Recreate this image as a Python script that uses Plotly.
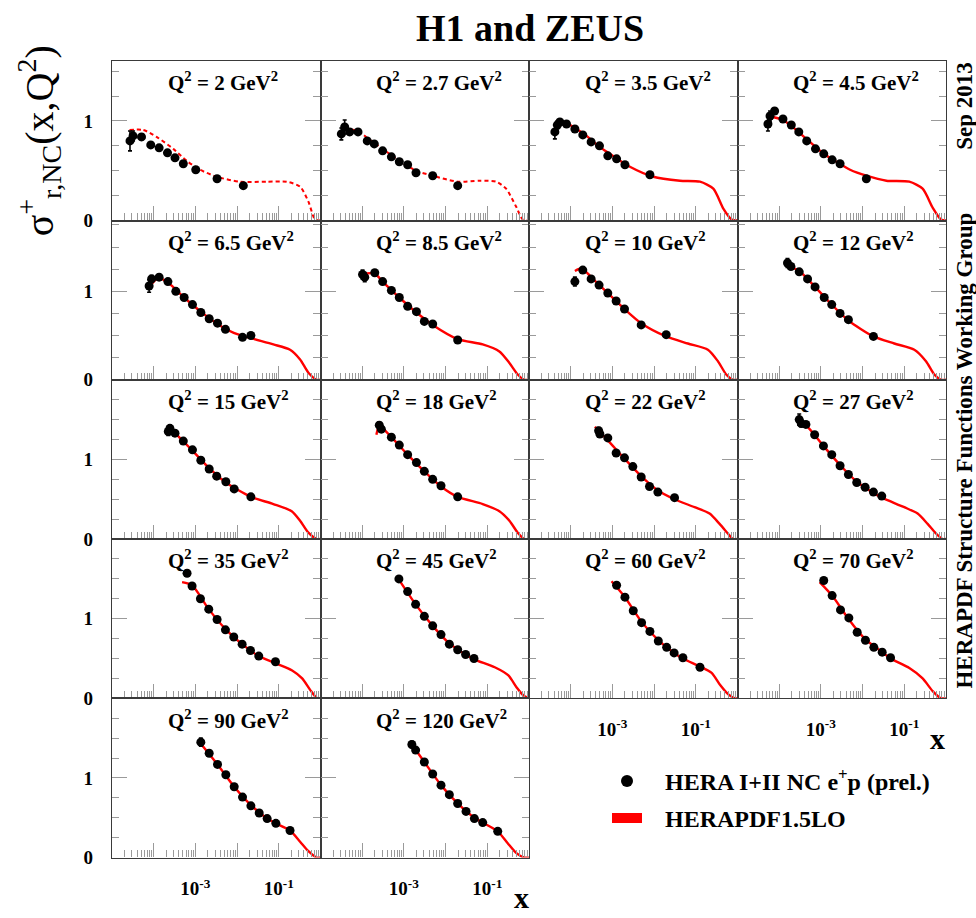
import plotly.graph_objects as go

# ---------------- data ----------------
Q2_LABELS = ["2", "2.7", "3.5", "4.5", "6.5", "8.5", "10", "12", "15",
             "18", "22", "27", "35", "45", "60", "70", "90", "120"]

# measured reduced cross sections (HERA I+II NC e+p)
DATA_X = [
    [2.7e-5, 3.2e-5, 5.1e-5, 8.5e-5, 1.35e-4, 2.14e-4, 3.24e-4, 5.13e-4, 1.02e-3, 3.31e-3, 1.41e-2],
    [3.16e-5, 3.8e-5, 5.01e-5, 7.94e-5, 1.32e-4, 1.95e-4, 3.09e-4, 5.01e-4, 7.76e-4, 1.23e-3, 1.95e-3, 4.9e-3, 1.95e-2],
    [4.17e-5, 4.79e-5, 5.5e-5, 7.94e-5, 1.26e-4, 1.95e-4, 3.09e-4, 4.9e-4, 7.76e-4, 1.26e-3, 2.0e-3, 7.94e-3],
    [5.37e-5, 6.03e-5, 7.76e-5, 1.23e-4, 1.95e-4, 2.95e-4, 4.57e-4, 7.41e-4, 1.17e-3, 1.86e-3, 2.88e-3, 1.23e-2],
    [7.76e-5, 8.91e-5, 1.35e-4, 2.19e-4, 3.39e-4, 5.37e-4, 8.51e-4, 1.35e-3, 2.14e-3, 3.39e-3, 5.25e-3, 1.35e-2, 2.14e-2],
    [1.02e-4, 1.15e-4, 2.0e-4, 3.09e-4, 5.01e-4, 7.76e-4, 1.23e-3, 2.0e-3, 3.09e-3, 4.9e-3, 1.95e-2],
    [1.26e-4, 1.95e-4, 3.09e-4, 4.79e-4, 7.76e-4, 1.23e-3, 1.95e-3, 4.9e-3, 1.95e-2],
    [1.58e-4, 1.91e-4, 3.02e-4, 4.79e-4, 7.24e-4, 1.2e-3, 1.82e-3, 2.88e-3, 4.57e-3, 1.82e-2],
    [2.24e-4, 2.45e-4, 3.24e-4, 5.13e-4, 8.51e-4, 1.35e-3, 2.14e-3, 3.24e-3, 5.37e-3, 8.51e-3, 2.14e-2],
    [2.57e-4, 2.88e-4, 5.01e-4, 7.76e-4, 1.23e-3, 2.0e-3, 3.09e-3, 4.9e-3, 7.76e-3, 1.95e-2],
    [4.68e-4, 5.01e-4, 7.76e-4, 1.23e-3, 1.95e-3, 3.09e-3, 4.9e-3, 7.76e-3, 1.23e-2, 3.09e-2],
    [3.02e-4, 3.39e-4, 4.37e-4, 7.08e-4, 1.15e-3, 1.82e-3, 2.88e-3, 4.57e-3, 7.24e-3, 1.15e-2, 1.82e-2, 2.88e-2],
    [6.31e-4, 8.32e-4, 1.32e-3, 2.09e-3, 3.31e-3, 5.25e-3, 8.32e-3, 1.32e-2, 2.09e-2, 3.31e-2, 8.32e-2],
    [7.59e-4, 1.23e-3, 1.91e-3, 3.09e-3, 4.9e-3, 7.76e-3, 1.23e-2, 1.95e-2, 3.02e-2, 4.79e-2],
    [1.26e-3, 2.0e-3, 3.16e-3, 5.01e-3, 7.94e-3, 1.26e-2, 2.0e-2, 3.02e-2, 4.9e-2, 0.126],
    [1.17e-3, 1.86e-3, 2.95e-3, 4.68e-3, 7.41e-3, 1.17e-2, 1.86e-2, 2.95e-2, 4.68e-2],
    [1.35e-3, 2.14e-3, 3.39e-3, 5.37e-3, 8.51e-3, 1.35e-2, 2.14e-2, 3.39e-2, 5.25e-2, 8.51e-2, 0.186],
    [1.55e-3, 1.91e-3, 3.09e-3, 4.9e-3, 7.76e-3, 1.23e-2, 1.95e-2, 3.09e-2, 4.9e-2, 7.76e-2, 0.178],
]
DATA_Y = [
    [0.80, 0.85, 0.84, 0.76, 0.73, 0.68, 0.63, 0.57, 0.51, 0.42, 0.35],
    [0.87, 0.94, 0.89, 0.89, 0.80, 0.77, 0.70, 0.64, 0.59, 0.56, 0.48, 0.45, 0.35],
    [0.89, 0.96, 0.99, 0.97, 0.92, 0.86, 0.79, 0.75, 0.65, 0.62, 0.56, 0.46],
    [0.97, 1.05, 1.10, 1.02, 0.96, 0.89, 0.80, 0.72, 0.67, 0.61, 0.57, 0.42],
    [1.06, 1.14, 1.16, 1.11, 1.00, 0.93, 0.85, 0.76, 0.69, 0.64, 0.57, 0.48, 0.50],
    [1.19, 1.16, 1.21, 1.11, 1.01, 0.93, 0.83, 0.77, 0.66, 0.63, 0.45],
    [1.11, 1.24, 1.14, 1.07, 0.98, 0.89, 0.80, 0.62, 0.51],
    [1.32, 1.28, 1.22, 1.14, 1.05, 0.93, 0.85, 0.75, 0.68, 0.49],
    [1.35, 1.39, 1.33, 1.23, 1.12, 0.99, 0.88, 0.79, 0.72, 0.63, 0.53],
    [1.43, 1.38, 1.28, 1.18, 1.06, 0.96, 0.85, 0.75, 0.67, 0.53],
    [1.36, 1.32, 1.27, 1.08, 1.02, 0.91, 0.78, 0.66, 0.59, 0.52],
    [1.50, 1.45, 1.44, 1.31, 1.17, 1.06, 0.92, 0.81, 0.71, 0.65, 0.59, 0.54],
    [1.57, 1.41, 1.25, 1.12, 0.99, 0.86, 0.77, 0.68, 0.60, 0.53, 0.46],
    [1.50, 1.34, 1.18, 1.03, 0.91, 0.80, 0.68, 0.61, 0.55, 0.50],
    [1.42, 1.27, 1.10, 0.95, 0.84, 0.72, 0.64, 0.57, 0.51, 0.39],
    [1.48, 1.29, 1.11, 1.01, 0.83, 0.73, 0.64, 0.58, 0.51],
    [1.45, 1.31, 1.17, 1.04, 0.89, 0.76, 0.65, 0.56, 0.49, 0.43, 0.34],
    [1.42, 1.35, 1.20, 1.05, 0.91, 0.79, 0.68, 0.58, 0.49, 0.44, 0.33],
]
DATA_ERR = [
    [0.10, 0.05, 0.03, 0.02, 0.02, 0.02, 0.02, 0.02, 0.02, 0.02, 0.02],
    [0.06, 0.07, 0.03, 0.02, 0.02, 0.02, 0.02, 0.02, 0.02, 0.02, 0.02, 0.02, 0.02],
    [0.07, 0.04, 0.03, 0.02, 0.02, 0.02, 0.02, 0.02, 0.02, 0.02, 0.02, 0.02],
    [0.07, 0.05, 0.03, 0.02, 0.02, 0.02, 0.02, 0.02, 0.02, 0.02, 0.02, 0.02],
    [0.07, 0.04, 0.02, 0.02, 0.02, 0.02, 0.02, 0.02, 0.02, 0.02, 0.02, 0.02, 0.02],
    [0.05, 0.05, 0.03, 0.02, 0.02, 0.02, 0.02, 0.02, 0.02, 0.02, 0.02],
    [0.05, 0.02, 0.02, 0.02, 0.02, 0.02, 0.02, 0.02, 0.02],
    [0.05, 0.03, 0.02, 0.02, 0.02, 0.02, 0.02, 0.02, 0.02, 0.02],
    [0.05, 0.04, 0.02, 0.02, 0.02, 0.02, 0.02, 0.02, 0.02, 0.02, 0.02],
    [0.04, 0.03, 0.02, 0.02, 0.02, 0.02, 0.02, 0.02, 0.02, 0.02],
    [0.04, 0.03, 0.02, 0.02, 0.02, 0.02, 0.02, 0.02, 0.02, 0.02],
    [0.07, 0.04, 0.03, 0.02, 0.02, 0.02, 0.02, 0.02, 0.02, 0.02, 0.02, 0.02],
    [0.03, 0.02, 0.02, 0.02, 0.02, 0.02, 0.02, 0.02, 0.02, 0.02, 0.02],
    [0.03, 0.02, 0.02, 0.02, 0.02, 0.02, 0.02, 0.02, 0.02, 0.02],
    [0.03, 0.02, 0.02, 0.02, 0.02, 0.02, 0.02, 0.02, 0.02, 0.02],
    [0.03, 0.02, 0.02, 0.02, 0.02, 0.02, 0.02, 0.02, 0.02],
    [0.05, 0.02, 0.02, 0.02, 0.02, 0.02, 0.02, 0.02, 0.02, 0.02, 0.02],
    [0.04, 0.03, 0.02, 0.02, 0.02, 0.02, 0.02, 0.02, 0.02, 0.02, 0.02],
]

# HERAPDF1.5LO prediction
FIT_X = [
    [2.63e-5, 5.62e-5, 1.17e-4, 2.95e-4, 6.17e-4, 1.29e-3, 3.24e-3, 1.17e-2, 5.13e-2, 0.155, 0.324, 0.513, 0.741, 1.0],
    [3.8e-5, 8.71e-5, 1.32e-4, 3.09e-4, 7.76e-4, 1.95e-3, 4.9e-3, 1.95e-2, 6.46e-2, 0.162, 0.282, 0.49, 0.708, 1.0],
    [4.47e-5, 6.61e-5, 1.26e-4, 2.4e-4, 4.9e-4, 8.71e-4, 2.63e-3, 9.55e-3, 4.17e-2, 0.126, 0.263, 0.457, 0.724, 1.0],
    [5.62e-5, 1.23e-4, 2.4e-4, 4.47e-4, 1.17e-3, 2.34e-3, 5.01e-3, 1.23e-2, 3.72e-2, 0.132, 0.275, 0.479, 0.759, 1.0],
    [8.13e-5, 1.29e-4, 2.19e-4, 5.37e-4, 1.35e-3, 3.39e-3, 8.32e-3, 2.14e-2, 7.41e-2, 0.186, 0.324, 0.513, 0.813, 1.0],
    [1.02e-4, 2.0e-4, 3.09e-4, 7.76e-4, 2.0e-3, 4.9e-3, 1.95e-2, 7.76e-2, 0.195, 0.339, 0.537, 0.776, 1.0],
    [1.26e-4, 1.86e-4, 3.09e-4, 7.76e-4, 1.95e-3, 4.9e-3, 1.95e-2, 6.46e-2, 0.195, 0.339, 0.537, 0.776, 1.0],
    [1.45e-4, 3.02e-4, 7.24e-4, 1.82e-3, 4.57e-3, 1.82e-2, 5.75e-2, 0.174, 0.331, 0.525, 0.759, 1.0],
    [2.04e-4, 2.45e-4, 3.24e-4, 8.51e-4, 2.14e-3, 5.37e-3, 2.14e-2, 7.41e-2, 0.204, 0.324, 0.513, 0.813, 1.0],
    [2.19e-4, 2.57e-4, 5.01e-4, 1.23e-3, 3.09e-3, 7.76e-3, 1.95e-2, 7.76e-2, 0.195, 0.339, 0.537, 0.776, 1.0],
    [3.8e-4, 7.76e-4, 1.95e-3, 4.9e-3, 1.23e-2, 3.09e-2, 9.33e-2, 0.214, 0.372, 0.589, 0.776, 1.0],
    [2.75e-4, 4.37e-4, 1.15e-3, 2.88e-3, 7.24e-3, 1.82e-2, 2.88e-2, 0.1, 0.209, 0.363, 0.575, 0.832, 1.0],
    [4.79e-4, 8.32e-4, 2.09e-3, 5.25e-3, 1.32e-2, 3.31e-2, 8.32e-2, 0.209, 0.363, 0.575, 0.832, 1.0],
    [7.59e-4, 1.91e-3, 4.9e-3, 1.23e-2, 3.02e-2, 4.79e-2, 0.151, 0.316, 0.501, 0.724, 1.0],
    [9.55e-4, 2.0e-3, 5.01e-3, 1.26e-2, 3.02e-2, 4.9e-2, 0.126, 0.24, 0.38, 0.603, 0.871, 1.0],
    [9.33e-4, 1.86e-3, 4.68e-3, 1.17e-2, 2.95e-2, 4.68e-2, 0.132, 0.275, 0.479, 0.759, 1.0],
    [1.35e-3, 3.39e-3, 8.51e-3, 2.14e-2, 5.25e-2, 8.51e-2, 0.186, 0.324, 0.513, 0.813, 1.0],
    [1.51e-3, 3.09e-3, 7.76e-3, 1.95e-2, 4.9e-2, 7.76e-2, 0.178, 0.309, 0.49, 0.776, 1.0],
]
FIT_Y = [
    [0.91, 0.91, 0.84, 0.72, 0.60, 0.51, 0.44, 0.39, 0.39, 0.39, 0.34, 0.19, 0.01, 0.0],
    [0.93, 0.89, 0.83, 0.72, 0.60, 0.50, 0.45, 0.39, 0.40, 0.39, 0.32, 0.14, 0.01, 0.0],
    [1.00, 0.99, 0.93, 0.85, 0.74, 0.67, 0.54, 0.44, 0.40, 0.39, 0.32, 0.12, 0.01, 0.0],
    [1.05, 1.01, 0.92, 0.82, 0.67, 0.59, 0.51, 0.45, 0.40, 0.39, 0.32, 0.13, 0.01, 0.0],
    [1.06, 1.15, 1.10, 0.93, 0.77, 0.63, 0.53, 0.47, 0.40, 0.34, 0.23, 0.08, 0.0, 0.0],
    [1.20, 1.20, 1.11, 0.93, 0.76, 0.62, 0.46, 0.40, 0.32, 0.19, 0.06, 0.0, 0.0],
    [1.23, 1.26, 1.16, 0.98, 0.80, 0.64, 0.49, 0.41, 0.34, 0.21, 0.06, 0.0, 0.0],
    [1.30, 1.23, 1.05, 0.85, 0.67, 0.49, 0.41, 0.34, 0.21, 0.06, 0.0, 0.0],
    [1.31, 1.38, 1.33, 1.11, 0.89, 0.71, 0.53, 0.44, 0.35, 0.23, 0.08, 0.0, 0.0],
    [1.31, 1.42, 1.28, 1.06, 0.85, 0.66, 0.53, 0.44, 0.35, 0.23, 0.08, 0.0, 0.0],
    [1.41, 1.24, 1.01, 0.79, 0.61, 0.50, 0.40, 0.32, 0.19, 0.07, 0.0, 0.0],
    [1.48, 1.43, 1.17, 0.93, 0.72, 0.58, 0.52, 0.40, 0.32, 0.19, 0.07, 0.0, 0.0],
    [1.46, 1.42, 1.12, 0.87, 0.68, 0.53, 0.44, 0.35, 0.25, 0.10, 0.0, 0.0],
    [1.49, 1.18, 0.91, 0.69, 0.55, 0.49, 0.39, 0.29, 0.14, 0.04, 0.0],
    [1.47, 1.27, 0.96, 0.73, 0.57, 0.50, 0.40, 0.32, 0.17, 0.05, 0.0, 0.0],
    [1.46, 1.29, 0.99, 0.74, 0.58, 0.50, 0.38, 0.25, 0.09, 0.0, 0.0],
    [1.43, 1.17, 0.89, 0.66, 0.49, 0.43, 0.34, 0.20, 0.08, 0.0, 0.0],
    [1.43, 1.20, 0.91, 0.68, 0.50, 0.44, 0.33, 0.18, 0.06, 0.0, 0.0],
]

ROW_YMAX = [1.6, 1.8, 2.0, 2.0, 2.0]
X_MAJOR = [1e-5, 1e-4, 1e-3, 1e-2, 1e-1, 1.0]
X_MAJOR_TEXT = ["", "", "10<sup>-3</sup>", "", "10<sup>-1</sup>", ""]
X_MINOR = [m * d for d in [1e-5, 1e-4, 1e-3, 1e-2, 1e-1] for m in range(2, 10)]
Y_MINOR = [0.25, 0.5, 0.75, 1.25, 1.5, 1.75]
BOTTOM_PANELS = {14, 15, 16, 17}

LEGEND_DATA = "\u00a0\u00a0\u00a0HERA I+II NC e<sup>+</sup>p (prel.)"
LEGEND_FIT = "\u00a0\u00a0\u00a0HERAPDF1.5LO"

# ---------------- layout geometry ----------------
W, H = 976, 918
LEFT, RIGHT, TOP, BOTTOM = 112, 946, 62, 868
NCOL, NROW = 4, 5
CW = (RIGHT - LEFT) / NCOL
RH = (BOTTOM - TOP) / NROW
SERIF = "Liberation Serif"
TICK_GREY = "#9a9a9a"
FRAME = "#3a3a3a"

fig = go.Figure()
layout = {}
annotations = []

for i in range(len(Q2_LABELS)):
    r, c = divmod(i, NCOL)
    n = i + 1
    xn = "x" if n == 1 else f"x{n}"
    yn = "y" if n == 1 else f"y{n}"
    xk = "xaxis" if n == 1 else f"xaxis{n}"
    yk = "yaxis" if n == 1 else f"yaxis{n}"
    x0 = (LEFT + c * CW) / W
    x1 = (LEFT + (c + 1) * CW) / W
    y1 = 1 - (TOP + r * RH) / H
    y0 = 1 - (TOP + (r + 1) * RH) / H

    dashed = i < 2
    fig.add_trace(go.Scatter(
        x=FIT_X[i], y=FIT_Y[i], mode="lines", xaxis=xn, yaxis=yn,
        line=dict(color="#ff0000", width=2.4 if not dashed else 2,
                  dash="4px,3px" if dashed else "solid",
                  shape="spline", smoothing=0.7),
        showlegend=False, hoverinfo="skip"))
    fig.add_trace(go.Scatter(
        x=DATA_X[i], y=DATA_Y[i], mode="markers", xaxis=xn, yaxis=yn,
        marker=dict(color="black", size=9),
        error_y=dict(type="data", array=DATA_ERR[i], color="black",
                     thickness=1.6, width=2),
        showlegend=False, hoverinfo="skip"))

    bottom = i in BOTTOM_PANELS
    layout[xk] = dict(
        domain=[x0, x1], anchor=yn, type="log", range=[-5, 0],
        showgrid=False, zeroline=False,
        showline=True, linecolor=FRAME, linewidth=1.2, mirror=True,
        ticks="inside", ticklen=14, tickwidth=1, tickcolor=TICK_GREY,
        tickmode="array", tickvals=X_MAJOR, ticktext=X_MAJOR_TEXT,
        showticklabels=bottom, ticklabelstandoff=14,
        tickfont=dict(family=SERIF, size=19, color="black", weight="bold"),
        minor=dict(tickmode="array", tickvals=X_MINOR, ticks="inside",
                   ticklen=7, tickwidth=1, tickcolor=TICK_GREY, showgrid=False),
    )
    layout[yk] = dict(
        domain=[y0, y1], anchor=xn, range=[0, ROW_YMAX[r]],
        showgrid=False, zeroline=False,
        showline=True, linecolor=FRAME, linewidth=1.2, mirror="ticks",
        ticks="inside", ticklen=15, tickwidth=1, tickcolor=TICK_GREY,
        tickmode="array", tickvals=[0, 1], ticktext=["0", "1"],
        showticklabels=(c == 0), ticklabelstandoff=14,
        tickfont=dict(family=SERIF, size=19, color="black", weight="bold"),
        minor=dict(tickmode="array",
                   tickvals=[v for v in Y_MINOR if v < ROW_YMAX[r]],
                   ticks="inside", ticklen=7, tickwidth=1,
                   tickcolor=TICK_GREY, showgrid=False),
    )
    annotations.append(dict(
        text=f"Q<sup>2</sup> = {Q2_LABELS[i]} GeV<sup>2</sup>",
        xref=f"{xn} domain", yref=f"{yn} domain", x=0.258, y=0.87,
        xanchor="left", yanchor="middle", showarrow=False,
        font=dict(family=SERIF, size=21, color="black", weight="bold")))

# legend entries (legend-only traces)
fig.add_trace(go.Scatter(
    x=[None], y=[None], mode="markers", name=LEGEND_DATA,
    marker=dict(color="black", size=12), legendgroup="a", hoverinfo="skip"))
fig.add_trace(go.Scatter(
    x=[None], y=[None], mode="lines", name=LEGEND_FIT,
    line=dict(color="#ff0000", width=10), legendgroup="b", hoverinfo="skip"))

annotations += [
    dict(text="H1 and ZEUS", xref="paper", yref="paper",
         x=530 / W, y=1 - 28 / H, xanchor="center", yanchor="middle",
         showarrow=False,
         font=dict(family=SERIF, size=38, color="black", weight="bold")),
    dict(text="σ<sup>+</sup><sub>r,NC</sub>(x,Q<sup>2</sup>)",
         xref="paper", yref="paper", x=39 / W, y=1 - 143 / H,
         xanchor="center", yanchor="middle", textangle=-90, showarrow=False,
         font=dict(family=SERIF, size=40, color="black")),
    dict(text="Sep 2013", xref="paper", yref="paper",
         x=965 / W, y=1 - 107 / H, xanchor="center", yanchor="middle",
         textangle=-90, showarrow=False,
         font=dict(family=SERIF, size=23, color="black", weight="bold")),
    dict(text="HERAPDF Structure Functions Working Group", xref="paper",
         yref="paper", x=965 / W, y=1 - 456 / H, xanchor="center",
         yanchor="middle", textangle=-90, showarrow=False,
         font=dict(family=SERIF, size=23, color="black", weight="bold")),
    dict(text="x", xref="paper", yref="paper", x=521 / W, y=1 - 908 / H,
         xanchor="center", yanchor="middle", showarrow=False,
         font=dict(family=SERIF, size=30, color="black", weight="bold")),
    dict(text="x", xref="paper", yref="paper", x=937 / W, y=1 - 747 / H,
         xanchor="center", yanchor="middle", showarrow=False,
         font=dict(family=SERIF, size=30, color="black", weight="bold")),
]

fig.update_layout(
    width=W, height=H, margin=dict(l=0, r=0, t=0, b=0),
    paper_bgcolor="white", plot_bgcolor="white",
    showlegend=True,
    legend=dict(x=607 / W, y=1 - 768 / H, xanchor="left", yanchor="top",
                bgcolor="rgba(0,0,0,0)", borderwidth=0, tracegroupgap=3,
                font=dict(family=SERIF, size=24, color="black", weight="bold")),
    annotations=annotations,
    hovermode=False,
    **layout,
)

fig.write_html("out.html", config={"displayModeBar": False})
